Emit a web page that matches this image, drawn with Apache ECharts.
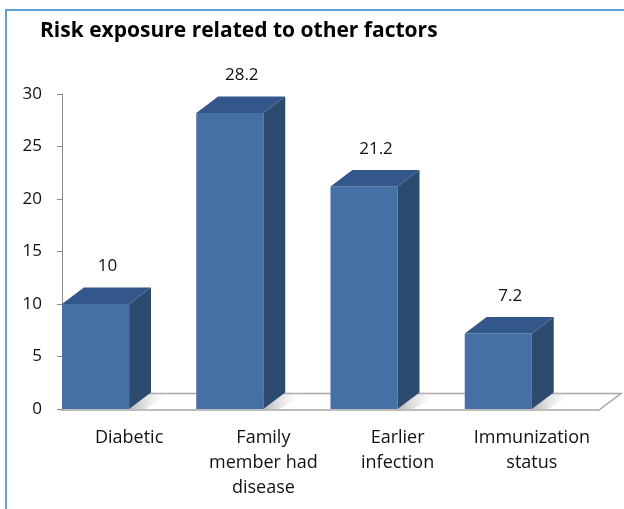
<!DOCTYPE html>
<html>
<head>
<meta charset="utf-8">
<script src="https://cdn.jsdelivr.net/npm/echarts@6/dist/echarts.min.js"></script>
<style>
html,body{margin:0;padding:0;background:#fff;}
#chart{width:624px;height:509px;}
</style>
</head>
<body>
<div id="chart"></div>
<script>
const titleText = 'Risk exposure related to other factors';
const categories = ['Diabetic', 'Family\nmember had\ndisease', 'Earlier\ninfection', 'Immunization\nstatus'];
const values = [10, 28.2, 21.2, 7.2];
const yMin = 0, yMax = 30, yInterval = 5;

const FONT = '"Open Sans"';
const FRONT = '#4470A6';
const TOP = '#34578B';
const SIDE = '#2D4A6F';

const chart = echarts.init(document.getElementById('chart'), null, {renderer: 'canvas'});

function depth(band) { return {dx: band * 0.163, dy: band * 0.123}; }

function renderFloor(params, api) {
  const cs = params.coordSys;
  const band = cs.width / categories.length;
  const d = depth(band);
  const x0 = cs.x, x1 = cs.x + cs.width, yb = cs.y + cs.height + 1;
  return {
    type: 'polygon',
    shape: {points: [[x0, yb], [x1, yb], [x1 + d.dx, yb - d.dy], [x0 + d.dx, yb - d.dy]]},
    style: {fill: '#fff', stroke: '#A6A6A6', lineWidth: 1.5}
  };
}

function renderBar(params, api) {
  const i = api.value(0), v = api.value(1);
  const top = api.coord([i, v]);
  const base = api.coord([i, 0]);
  const band = api.size([1, 0])[0];
  const w = band * 0.5;
  const d = depth(band);
  const xr = top[0], xl = xr - w;
  const yt = top[1], yb = base[1];
  return {
    type: 'group',
    children: [
      {
        type: 'polygon',
        shape: {points: [[xr, yb], [xr + d.dx, yb - d.dy], [xr + d.dx + 22, yb - d.dy], [xr + 16, yb]]},
        style: {fill: new echarts.graphic.LinearGradient(0, 0, 1, 0, [
          {offset: 0, color: 'rgba(120,120,120,0.55)'},
          {offset: 1, color: 'rgba(255,255,255,0)'}
        ])}
      },
      {type: 'polygon', shape: {points: [[xl, yt], [xr, yt], [xr, yb], [xl, yb]]}, style: {fill: FRONT}},
      {type: 'polygon', shape: {points: [[xr, yt], [xr + d.dx, yt - d.dy], [xr + d.dx, yb - d.dy], [xr, yb]]}, style: {fill: SIDE}},
      {type: 'polygon', shape: {points: [[xl, yt], [xl + d.dx, yt - d.dy], [xr + d.dx, yt - d.dy], [xr, yt]]}, style: {fill: TOP}},
      {
        type: 'text',
        style: {
          text: String(v), x: xl + (w + d.dx) / 2 + 1, y: yt - d.dy - 21,
          align: 'center', verticalAlign: 'middle',
          font: '17px ' + FONT, fill: '#111'
        }
      }
    ]
  };
}

chart.setOption({
  animation: false,
  backgroundColor: '#fff',
  title: {
    text: titleText, left: 40, top: 21, padding: 0,
    textStyle: {fontFamily: FONT, fontSize: 21, fontWeight: 'bold', color: '#000'}
  },
  graphic: [{
    type: 'polyline', shape: {points: [[6, 509], [6, 10], [624, 10]]},
    style: {stroke: '#62A0DA', lineWidth: 2, fill: null}, z: 100
  }],
  grid: {left: 62, right: 25, top: 94, bottom: 100},
  xAxis: {
    type: 'category', data: categories,
    axisLine: {show: false}, axisTick: {show: false},
    axisLabel: {fontFamily: FONT, fontSize: 18, color: '#111', lineHeight: 25, margin: 16, interval: 0}
  },
  yAxis: {
    type: 'value', min: yMin, max: yMax, interval: yInterval,
    axisLine: {show: true, lineStyle: {color: '#8C8C8C', width: 1}},
    axisTick: {show: true, length: 5, lineStyle: {color: '#8C8C8C'}},
    splitLine: {show: false},
    axisLabel: {fontFamily: FONT, fontSize: 17, color: '#111', margin: 20}
  },
  series: [
    {type: 'custom', renderItem: renderFloor, data: [[0, 0]], z: 1, silent: true},
    {type: 'custom', renderItem: renderBar, data: values.map((v, i) => [i, v]), encode: {x: 0, y: 1}, z: 2}
  ]
});
</script>
</body>
</html>
